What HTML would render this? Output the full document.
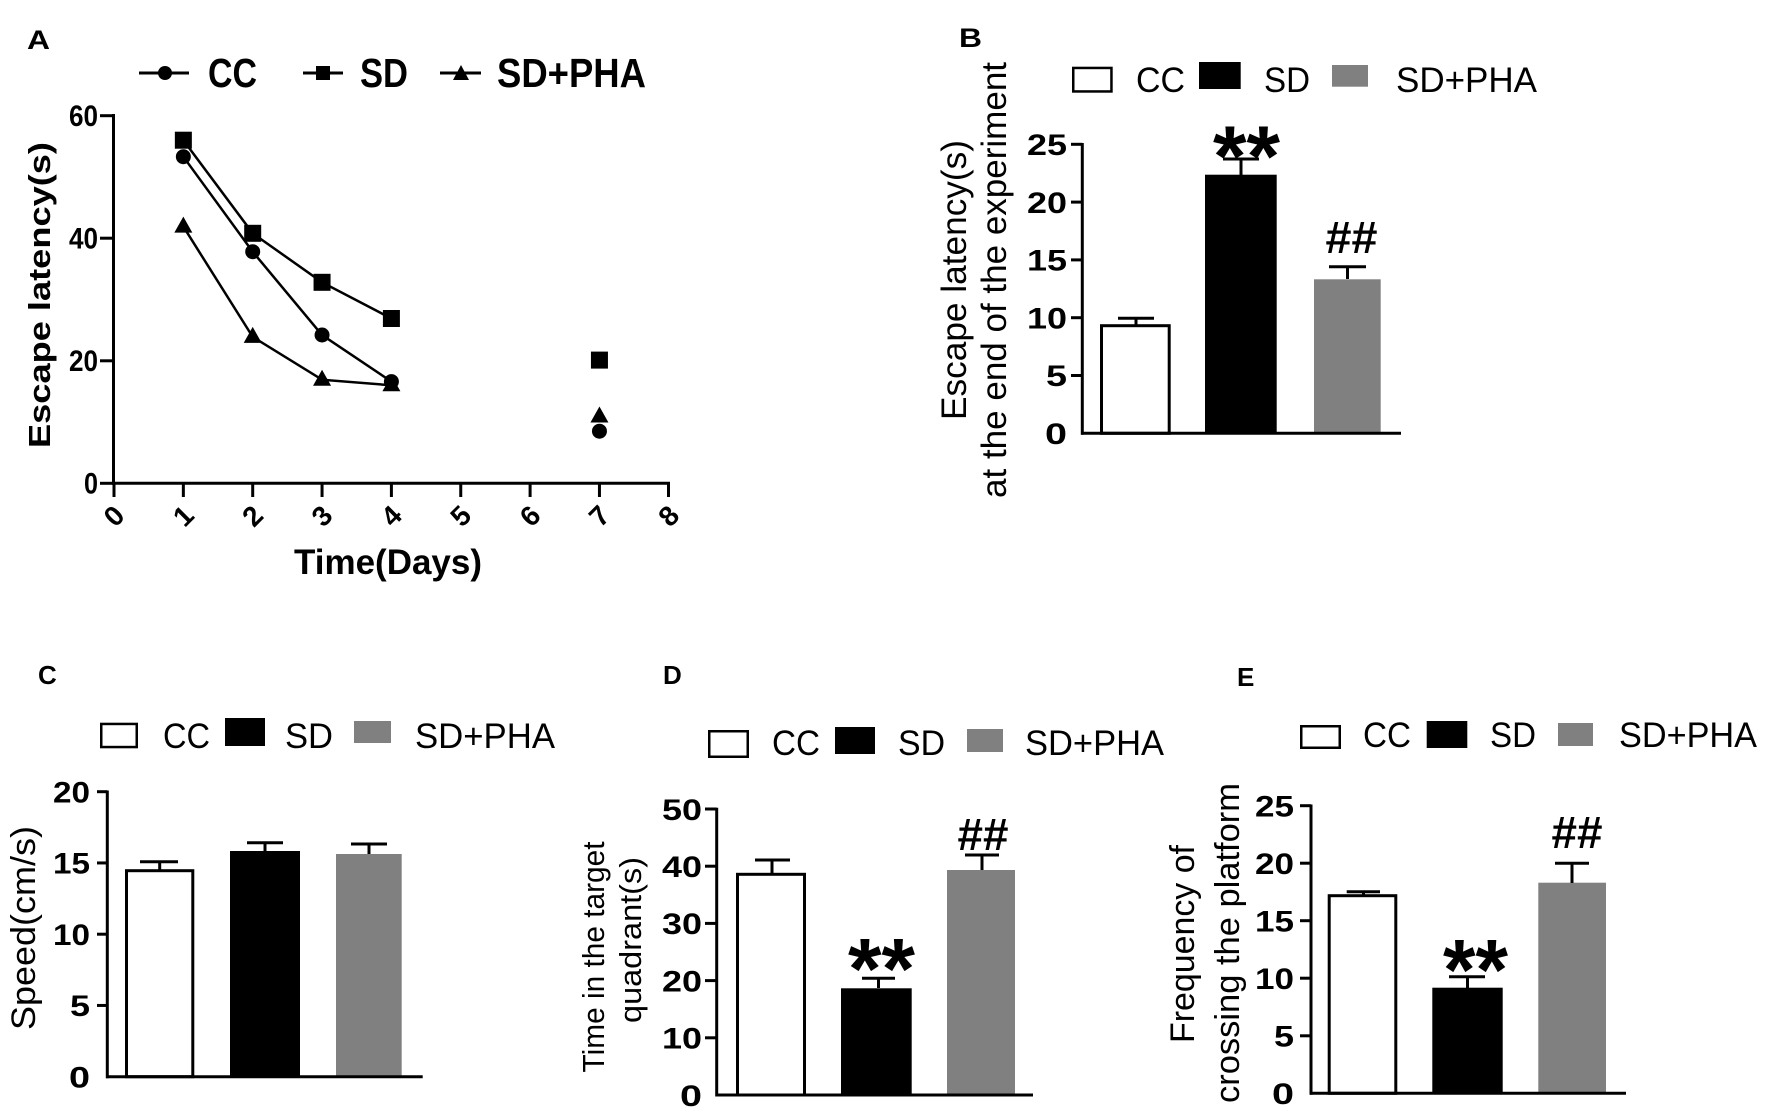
<!DOCTYPE html>
<html><head><meta charset="utf-8"><style>
html,body{margin:0;padding:0;background:#fff;}
svg{display:block;}
text{font-family:"Liberation Sans",Arial,sans-serif;fill:#000;}
.b{font-weight:bold;}
</style></head><body>
<svg width="1772" height="1117" viewBox="0 0 1772 1117" xmlns="http://www.w3.org/2000/svg">
<rect width="1772" height="1117" fill="#fff"/>

<!-- ================= PANEL A ================= -->
<text class="b" x="27" y="49" font-size="27" textLength="23" lengthAdjust="spacingAndGlyphs">A</text>
<g stroke="#000" stroke-width="3">
<line x1="139" y1="73" x2="189" y2="73"/>
<line x1="303" y1="73" x2="343" y2="73"/>
<line x1="440" y1="73" x2="481" y2="73"/>
</g>
<circle cx="165" cy="73" r="7" fill="#000"/>
<rect x="316" y="66" width="14" height="14" fill="#000"/>
<polygon points="461,65 469,80 453,80" fill="#000"/>
<text class="b" x="208" y="87" font-size="41" textLength="49" lengthAdjust="spacingAndGlyphs">CC</text>
<text class="b" x="360" y="87" font-size="41" textLength="48" lengthAdjust="spacingAndGlyphs">SD</text>
<text class="b" x="497" y="87" font-size="41" textLength="149" lengthAdjust="spacingAndGlyphs">SD+PHA</text>
<g stroke="#000" stroke-width="3" fill="none">
<line x1="113.5" y1="114" x2="113.5" y2="484.8"/>
<line x1="112" y1="483.3" x2="670" y2="483.3"/>
<line x1="100" y1="115.7" x2="113.5" y2="115.7"/>
<line x1="100" y1="238.2" x2="113.5" y2="238.2"/>
<line x1="100" y1="360.8" x2="113.5" y2="360.8"/>
<line x1="100" y1="483.3" x2="113.5" y2="483.3"/>
<line x1="114" y1="483" x2="114" y2="497"/>
<line x1="183.35" y1="483" x2="183.35" y2="497"/>
<line x1="252.7" y1="483" x2="252.7" y2="497"/>
<line x1="322.05" y1="483" x2="322.05" y2="497"/>
<line x1="391.4" y1="483" x2="391.4" y2="497"/>
<line x1="460.75" y1="483" x2="460.75" y2="497"/>
<line x1="530.1" y1="483" x2="530.1" y2="497"/>
<line x1="599.45" y1="483" x2="599.45" y2="497"/>
<line x1="668.5" y1="483" x2="668.5" y2="497"/>
</g>
<g class="b" font-size="30" text-anchor="end">
<text class="b" x="98" y="126" textLength="29" lengthAdjust="spacingAndGlyphs">60</text>
<text class="b" x="98" y="248.5" textLength="29" lengthAdjust="spacingAndGlyphs">40</text>
<text class="b" x="98" y="371" textLength="29" lengthAdjust="spacingAndGlyphs">20</text>
<text class="b" x="98" y="493.5" textLength="14" lengthAdjust="spacingAndGlyphs">0</text>
</g>
<g class="b" font-size="28" text-anchor="middle">
<text class="b" transform="translate(114,516) rotate(-45)" dominant-baseline="central">0</text>
<text class="b" transform="translate(183.35,516) rotate(-45)" dominant-baseline="central">1</text>
<text class="b" transform="translate(252.7,516) rotate(-45)" dominant-baseline="central">2</text>
<text class="b" transform="translate(322.05,516) rotate(-45)" dominant-baseline="central">3</text>
<text class="b" transform="translate(391.4,516) rotate(-45)" dominant-baseline="central">4</text>
<text class="b" transform="translate(460.75,516) rotate(-45)" dominant-baseline="central">5</text>
<text class="b" transform="translate(530.1,516) rotate(-45)" dominant-baseline="central">6</text>
<text class="b" transform="translate(599.45,516) rotate(-45)" dominant-baseline="central">7</text>
<text class="b" transform="translate(668.8,516) rotate(-45)" dominant-baseline="central">8</text>
</g>
<text class="b" x="294" y="574" font-size="35" textLength="188" lengthAdjust="spacingAndGlyphs">Time(Days)</text>
<text class="b" transform="translate(50,295) rotate(-90)" text-anchor="middle" font-size="31" textLength="306" lengthAdjust="spacingAndGlyphs">Escape latency(s)</text>
<g stroke="#000" stroke-width="2.5" fill="none">
<polyline points="183.35,140.2 252.7,233.3 322.05,282.3 391.4,318.5"/>
<polyline points="183.35,156.7 252.7,251.7 322.05,335.0 391.4,381.6"/>
<polyline points="183.35,226.6 252.7,336.9 322.05,379.7 391.4,385.3"/>
</g>
<g fill="#000">
<rect x="174.85" y="131.7" width="17" height="17"/>
<rect x="244.2" y="224.8" width="17" height="17"/>
<rect x="313.55" y="273.8" width="17" height="17"/>
<rect x="382.9" y="310" width="17" height="17"/>
<rect x="590.95" y="351.6" width="17" height="17"/>
<circle cx="183.35" cy="156.7" r="7.5"/>
<circle cx="252.7" cy="251.7" r="7.5"/>
<circle cx="322.05" cy="335.0" r="7.5"/>
<circle cx="391.4" cy="381.6" r="7.5"/>
<circle cx="599.45" cy="431.2" r="7.5"/>
<polygon points="183.35,216.6 192.35,232.6 174.35,232.6"/>
<polygon points="252.7,326.9 261.7,342.9 243.7,342.9"/>
<polygon points="322.05,369.7 331.05,385.7 313.05,385.7"/>
<polygon points="391.4,375.3 400.4,391.3 382.4,391.3"/>
<polygon points="599.45,406.5 608.45,422.5 590.45,422.5"/>
</g>

<!-- ================= PANEL B ================= -->
<text class="b" x="959" y="47" font-size="27" textLength="23" lengthAdjust="spacingAndGlyphs">B</text>
<rect x="1073.25" y="67.95" width="38.2" height="23.5" fill="#fff" stroke="#000" stroke-width="2.5"/>
<text x="1136" y="92" font-size="35" textLength="49" lengthAdjust="spacingAndGlyphs">CC</text>
<rect x="1199" y="62" width="41.7" height="27" fill="#000"/>
<text x="1264" y="92" font-size="35" textLength="46" lengthAdjust="spacingAndGlyphs">SD</text>
<rect x="1332" y="65" width="36" height="21.7" fill="#808080"/>
<text x="1396" y="92" font-size="35" textLength="141" lengthAdjust="spacingAndGlyphs">SD+PHA</text>
<rect x="1101.5" y="325.7" width="67.7" height="107.6" fill="#fff" stroke="#000" stroke-width="3"/>
<rect x="1205" y="174.7" width="71.7" height="258.6" fill="#000"/>
<rect x="1314" y="279.3" width="66.7" height="154" fill="#808080"/>
<g stroke="#000" stroke-width="3" fill="none">
<line x1="1136" y1="325" x2="1136" y2="318.3"/><line x1="1118" y1="318.3" x2="1154" y2="318.3"/>
<line x1="1241" y1="175" x2="1241" y2="159"/><line x1="1223" y1="159" x2="1259" y2="159"/>
<line x1="1347.5" y1="279" x2="1347.5" y2="266.7"/><line x1="1329" y1="266.7" x2="1366" y2="266.7"/>
<line x1="1082.3" y1="143" x2="1082.3" y2="434.8"/>
<line x1="1081" y1="433.3" x2="1401" y2="433.3"/>
<line x1="1071" y1="144.3" x2="1082.3" y2="144.3"/>
<line x1="1071" y1="202.1" x2="1082.3" y2="202.1"/>
<line x1="1071" y1="259.9" x2="1082.3" y2="259.9"/>
<line x1="1071" y1="317.7" x2="1082.3" y2="317.7"/>
<line x1="1071" y1="375.5" x2="1082.3" y2="375.5"/>
</g>
<g text-anchor="end" font-size="30">
<text class="b" x="1067" y="155" textLength="40" lengthAdjust="spacingAndGlyphs">25</text>
<text class="b" x="1067" y="212.8" textLength="40" lengthAdjust="spacingAndGlyphs">20</text>
<text class="b" x="1067" y="270.6" textLength="40" lengthAdjust="spacingAndGlyphs">15</text>
<text class="b" x="1067" y="328.4" textLength="40" lengthAdjust="spacingAndGlyphs">10</text>
<text class="b" x="1067" y="386.2" textLength="21" lengthAdjust="spacingAndGlyphs">5</text>
<text class="b" x="1067" y="444" textLength="22" lengthAdjust="spacingAndGlyphs">0</text>
</g>
<text class="b" x="1246.5" y="186" font-size="86" text-anchor="middle" textLength="67" lengthAdjust="spacingAndGlyphs">**</text>
<text class="b" x="1351.5" y="253" font-size="45" text-anchor="middle" textLength="52" lengthAdjust="spacingAndGlyphs">##</text>
<text transform="translate(966,280) rotate(-90)" text-anchor="middle" font-size="35" textLength="280" lengthAdjust="spacingAndGlyphs">Escape latency(s)</text>
<text transform="translate(1006,280) rotate(-90)" text-anchor="middle" font-size="35" textLength="436" lengthAdjust="spacingAndGlyphs">at the end of the experiment</text>

<!-- ================= PANEL C ================= -->
<text class="b" x="38" y="684" font-size="26">C</text>
<rect x="101.25" y="723.95" width="35.5" height="23.1" fill="#fff" stroke="#000" stroke-width="2.5"/>
<text x="163" y="748" font-size="35" textLength="47" lengthAdjust="spacingAndGlyphs">CC</text>
<rect x="225" y="718" width="40" height="28" fill="#000"/>
<text x="285" y="748" font-size="35" textLength="48" lengthAdjust="spacingAndGlyphs">SD</text>
<rect x="354" y="721" width="37" height="22" fill="#808080"/>
<text x="415" y="748" font-size="35" textLength="140" lengthAdjust="spacingAndGlyphs">SD+PHA</text>
<rect x="126.5" y="870.7" width="66.3" height="206" fill="#fff" stroke="#000" stroke-width="3"/>
<rect x="230" y="851" width="70" height="225.7" fill="#000"/>
<rect x="336" y="854" width="65.7" height="222.7" fill="#808080"/>
<g stroke="#000" stroke-width="3" fill="none">
<line x1="159.7" y1="870" x2="159.7" y2="861.7"/><line x1="140" y1="861.7" x2="178" y2="861.7"/>
<line x1="265" y1="851" x2="265" y2="842.7"/><line x1="247" y1="842.7" x2="283" y2="842.7"/>
<line x1="369" y1="854" x2="369" y2="844"/><line x1="351" y1="844" x2="387" y2="844"/>
<line x1="107.3" y1="790.5" x2="107.3" y2="1078.2"/>
<line x1="106" y1="1076.7" x2="422.7" y2="1076.7"/>
<line x1="97" y1="791.7" x2="107.3" y2="791.7"/>
<line x1="97" y1="862.95" x2="107.3" y2="862.95"/>
<line x1="97" y1="934.2" x2="107.3" y2="934.2"/>
<line x1="97" y1="1005.45" x2="107.3" y2="1005.45"/>
</g>
<g text-anchor="end" font-size="30">
<text class="b" x="90" y="802.5" textLength="37" lengthAdjust="spacingAndGlyphs">20</text>
<text class="b" x="90" y="873.7" textLength="37" lengthAdjust="spacingAndGlyphs">15</text>
<text class="b" x="90" y="945" textLength="37" lengthAdjust="spacingAndGlyphs">10</text>
<text class="b" x="90" y="1016.2" textLength="20" lengthAdjust="spacingAndGlyphs">5</text>
<text class="b" x="90" y="1087.5" textLength="21" lengthAdjust="spacingAndGlyphs">0</text>
</g>
<text transform="translate(35,928) rotate(-90)" text-anchor="middle" font-size="34" textLength="204" lengthAdjust="spacingAndGlyphs">Speed(cm/s)</text>

<!-- ================= PANEL D ================= -->
<text class="b" x="663" y="684" font-size="26">D</text>
<rect x="709.25" y="731.25" width="38.5" height="25.5" fill="#fff" stroke="#000" stroke-width="2.5"/>
<text x="772" y="755" font-size="35" textLength="48" lengthAdjust="spacingAndGlyphs">CC</text>
<rect x="835" y="727" width="40" height="27" fill="#000"/>
<text x="898" y="755" font-size="35" textLength="47" lengthAdjust="spacingAndGlyphs">SD</text>
<rect x="967" y="729" width="36" height="23" fill="#808080"/>
<text x="1025" y="755" font-size="35" textLength="139" lengthAdjust="spacingAndGlyphs">SD+PHA</text>
<rect x="737.5" y="874.3" width="67" height="220.7" fill="#fff" stroke="#000" stroke-width="3"/>
<rect x="841" y="988.3" width="70.7" height="106.7" fill="#000"/>
<rect x="947" y="870" width="68" height="225" fill="#808080"/>
<g stroke="#000" stroke-width="3" fill="none">
<line x1="772" y1="874" x2="772" y2="860"/><line x1="755" y1="860" x2="790" y2="860"/>
<line x1="878.5" y1="988" x2="878.5" y2="978.3"/><line x1="862" y1="978.3" x2="895" y2="978.3"/>
<line x1="982" y1="870" x2="982" y2="855"/><line x1="965" y1="855" x2="999" y2="855"/>
<line x1="716.7" y1="807.8" x2="716.7" y2="1096.5"/>
<line x1="715.5" y1="1095" x2="1033" y2="1095"/>
<line x1="705" y1="809" x2="716.7" y2="809"/>
<line x1="705" y1="866.2" x2="716.7" y2="866.2"/>
<line x1="705" y1="923.4" x2="716.7" y2="923.4"/>
<line x1="705" y1="980.6" x2="716.7" y2="980.6"/>
<line x1="705" y1="1037.8" x2="716.7" y2="1037.8"/>
</g>
<g text-anchor="end" font-size="30">
<text class="b" x="702" y="819.8" textLength="40" lengthAdjust="spacingAndGlyphs">50</text>
<text class="b" x="702" y="877" textLength="40" lengthAdjust="spacingAndGlyphs">40</text>
<text class="b" x="702" y="934.2" textLength="40" lengthAdjust="spacingAndGlyphs">30</text>
<text class="b" x="702" y="991.4" textLength="40" lengthAdjust="spacingAndGlyphs">20</text>
<text class="b" x="702" y="1048.6" textLength="40" lengthAdjust="spacingAndGlyphs">10</text>
<text class="b" x="702" y="1105.8" textLength="22" lengthAdjust="spacingAndGlyphs">0</text>
</g>
<text class="b" x="881.5" y="998.5" font-size="86" text-anchor="middle" textLength="67" lengthAdjust="spacingAndGlyphs">**</text>
<text class="b" x="983" y="850" font-size="45" text-anchor="middle" textLength="51" lengthAdjust="spacingAndGlyphs">##</text>
<text transform="translate(604,957) rotate(-90)" text-anchor="middle" font-size="31" textLength="231" lengthAdjust="spacingAndGlyphs">Time in the target</text>
<text transform="translate(641,940) rotate(-90)" text-anchor="middle" font-size="31" textLength="166" lengthAdjust="spacingAndGlyphs">quadrant(s)</text>

<!-- ================= PANEL E ================= -->
<text class="b" x="1237" y="686" font-size="26">E</text>
<rect x="1301.25" y="726.25" width="38.5" height="21.5" fill="#fff" stroke="#000" stroke-width="2.5"/>
<text x="1363" y="747" font-size="35" textLength="48" lengthAdjust="spacingAndGlyphs">CC</text>
<rect x="1426.7" y="721" width="40.6" height="27" fill="#000"/>
<text x="1490" y="747" font-size="35" textLength="46" lengthAdjust="spacingAndGlyphs">SD</text>
<rect x="1558" y="723" width="35" height="23" fill="#808080"/>
<text x="1619" y="747" font-size="35" textLength="138" lengthAdjust="spacingAndGlyphs">SD+PHA</text>
<rect x="1329.2" y="895.7" width="66.6" height="197.6" fill="#fff" stroke="#000" stroke-width="3"/>
<rect x="1432.3" y="987.7" width="70.4" height="105.6" fill="#000"/>
<rect x="1538.3" y="882.7" width="67.7" height="210.6" fill="#808080"/>
<g stroke="#000" stroke-width="3" fill="none">
<line x1="1363.5" y1="895" x2="1363.5" y2="891.7"/><line x1="1346.7" y1="891.7" x2="1380" y2="891.7"/>
<line x1="1467.5" y1="988" x2="1467.5" y2="976.7"/><line x1="1449" y1="976.7" x2="1485" y2="976.7"/>
<line x1="1572" y1="883" x2="1572" y2="863.3"/><line x1="1555" y1="863.3" x2="1589" y2="863.3"/>
<line x1="1311" y1="804.5" x2="1311" y2="1094.8"/>
<line x1="1310" y1="1093.3" x2="1626" y2="1093.3"/>
<line x1="1300" y1="805.7" x2="1311" y2="805.7"/>
<line x1="1300" y1="863.2" x2="1311" y2="863.2"/>
<line x1="1300" y1="920.7" x2="1311" y2="920.7"/>
<line x1="1300" y1="978.2" x2="1311" y2="978.2"/>
<line x1="1300" y1="1035.8" x2="1311" y2="1035.8"/>
</g>
<g text-anchor="end" font-size="30">
<text class="b" x="1294" y="816.5" textLength="39" lengthAdjust="spacingAndGlyphs">25</text>
<text class="b" x="1294" y="874" textLength="39" lengthAdjust="spacingAndGlyphs">20</text>
<text class="b" x="1294" y="931.5" textLength="39" lengthAdjust="spacingAndGlyphs">15</text>
<text class="b" x="1294" y="989" textLength="39" lengthAdjust="spacingAndGlyphs">10</text>
<text class="b" x="1294" y="1046.5" textLength="20" lengthAdjust="spacingAndGlyphs">5</text>
<text class="b" x="1294" y="1104" textLength="22" lengthAdjust="spacingAndGlyphs">0</text>
</g>
<text class="b" x="1475.5" y="999.5" font-size="86" text-anchor="middle" textLength="65" lengthAdjust="spacingAndGlyphs">**</text>
<text class="b" x="1577" y="848" font-size="45" text-anchor="middle" textLength="51" lengthAdjust="spacingAndGlyphs">##</text>
<text transform="translate(1194,944) rotate(-90)" text-anchor="middle" font-size="34" textLength="198" lengthAdjust="spacingAndGlyphs">Frequency of</text>
<text transform="translate(1239,943) rotate(-90)" text-anchor="middle" font-size="34" textLength="320" lengthAdjust="spacingAndGlyphs">crossing the platform</text>
</svg>
</body></html>
